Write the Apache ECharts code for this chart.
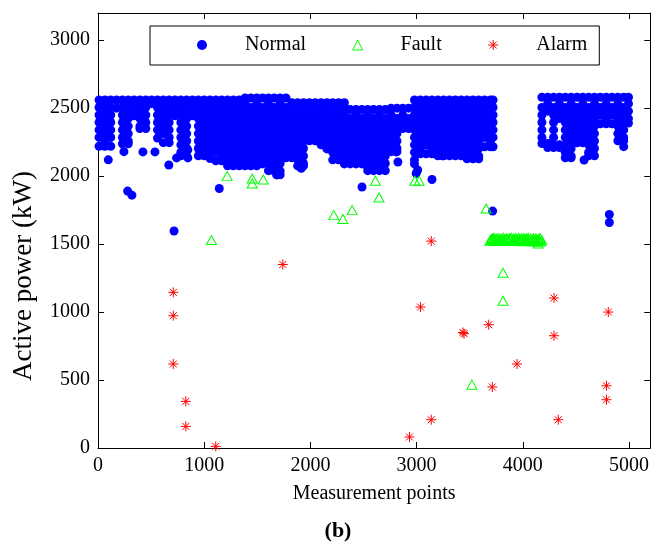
<!DOCTYPE html>
<html>
<head>
<meta charset="utf-8">
<title>Active power vs measurement points</title>
<script src="https://cdn.jsdelivr.net/npm/echarts/dist/echarts.min.js"></script>
<style>
  html, body { margin: 0; padding: 0; background: #fff; }
  #chart { width: 652px; height: 543px; }
</style>
</head>
<body>
<div id="chart"></div>
<script>
// Normal operation: the dense band of readings, listed column by column as [x, y, y, ...]
const normalColumns = [
  [10, 2560,2505,2450,2395,2340,2285,2220],
  [65, 2560,2533,2478,2423,2368,2313,2258,2220],
  [120, 2560,2505,2450,2395,2340,2285,2220],
  [175, 2560,2500],
  [230, 2560,2505,2450,2395,2340,2285,2238],
  [285, 2560,2533,2478,2423,2368,2313,2258,2238],
  [340, 2560,2505,2444],
  [395, 2560,2533,2478,2423,2368,2350],
  [450, 2560,2505,2450,2395,2350],
  [505, 2560,2533],
  [560, 2560,2505,2450,2395,2340,2280],
  [615, 2560,2533,2478,2423,2368,2313,2246],
  [670, 2560,2505,2450,2395,2340,2285,2246],
  [725, 2560,2533,2478,2444],
  [780, 2560,2505,2450,2395,2340,2285,2230,2175,2150],
  [835, 2560,2533,2478,2423,2368,2313,2258,2203,2150],
  [890, 2560,2505,2444],
  [945, 2560,2533,2478,2423,2368,2313,2258,2203,2150],
  [1000, 2560,2505,2450,2395,2340,2285,2230,2175,2150],
  [1055, 2560,2533,2478,2423,2368,2313,2258,2203,2148,2130],
  [1110, 2560,2505,2450,2395,2340,2285,2230,2175,2113],
  [1165, 2560,2533,2478,2423,2368,2313,2258,2203,2148,2113],
  [1220, 2560,2505,2450,2395,2340,2285,2230,2175,2120,2076],
  [1275, 2560,2533,2478,2423,2368,2313,2258,2203,2148,2093,2076],
  [1330, 2560,2505,2450,2395,2340,2285,2230,2175,2120,2076],
  [1385, 2575,2533,2478,2423,2368,2313,2258,2203,2148,2093,2076],
  [1440, 2575,2505,2450,2395,2340,2285,2230,2175,2120,2076],
  [1495, 2575,2533,2478,2423,2368,2313,2258,2203,2148,2093,2076],
  [1550, 2575,2505,2450,2395,2340,2285,2230,2175,2120,2090],
  [1605, 2575,2533,2478,2423,2368,2313,2258,2203,2148,2093,2040],
  [1660, 2575,2505,2450,2395,2340,2285,2230,2175,2120,2065,2040],
  [1715, 2575,2533,2478,2423,2368,2313,2258,2203,2148,2093,2038,2010],
  [1770, 2575,2505,2450,2395,2340,2285,2230,2175,2135],
  [1825, 2540,2478,2423,2368,2313,2258,2203,2148,2135],
  [1880, 2540,2505,2450,2395,2340,2285,2230,2175,2120,2075],
  [1935, 2540,2478,2423,2368,2313,2258,2203,2148,2093,2075],
  [1990, 2540,2505,2450,2395,2340,2285,2260],
  [2045, 2540,2478,2423,2368,2313,2260],
  [2100, 2540,2505,2450,2395,2340,2285,2230],
  [2155, 2540,2478,2423,2368,2313,2258,2200],
  [2210, 2540,2505,2450,2395,2340,2285,2230,2175,2120],
  [2265, 2540,2478,2423,2368,2313,2258,2203,2148,2120],
  [2320, 2540,2505,2450,2395,2340,2285,2230,2175,2120,2090],
  [2375, 2490,2423,2368,2313,2258,2203,2148,2090],
  [2430, 2490,2450,2395,2340,2285,2230,2175,2120,2090],
  [2485, 2490,2423,2368,2313,2258,2203,2148,2090],
  [2540, 2490,2450,2395,2340,2285,2230,2175,2120,2065,2040],
  [2595, 2490,2423,2368,2313,2258,2203,2148,2093,2040],
  [2650, 2490,2450,2395,2340,2285,2230,2175,2120,2065,2040],
  [2705, 2490,2423,2368,2313,2258,2203,2148,2093,2040],
  [2760, 2500,2450,2395,2340,2285,2230,2180],
  [2815, 2500,2423,2368,2313,2258,2203,2180],
  [2870, 2500,2450,2395,2350],
  [2925, 2500,2423,2368,2350],
  [2980, 2560,2505,2450,2395,2340,2285,2230,2175,2120,2090],
  [3035, 2560,2533,2478,2423,2368,2313,2258,2203,2165],
  [3090, 2560,2505,2450,2395,2340,2285,2230,2165],
  [3145, 2560,2533,2478,2423,2368,2313,2258,2203,2165],
  [3200, 2560,2505,2450,2395,2340,2285,2230,2175,2150],
  [3255, 2560,2533,2478,2423,2368,2313,2258,2203,2150],
  [3310, 2560,2505,2450,2395,2340,2285,2230,2175,2150],
  [3365, 2560,2533,2478,2423,2368,2313,2258,2203,2150],
  [3420, 2560,2505,2450,2395,2340,2285,2230,2175,2150],
  [3475, 2560,2533,2478,2423,2368,2313,2258,2203,2148,2128],
  [3530, 2560,2505,2450,2395,2340,2285,2230,2175,2128],
  [3585, 2560,2533,2478,2423,2368,2313,2258,2203,2148,2128],
  [3640, 2560,2505,2450,2395,2340,2285,2216],
  [3695, 2560,2533,2478,2423,2368,2313,2258,2216],
  [3720, 2560,2505,2450,2395,2340,2285,2216],
  [4180, 2580,2505,2450,2395,2340,2285,2240],
  [4235, 2580,2533,2478,2240,2210],
  [4290, 2580,2505,2450,2395,2340,2285,2230,2210],
  [4345, 2580,2533,2478,2423,2230,2210],
  [4400, 2580,2505,2450,2395,2340,2285,2230,2175,2135],
  [4455, 2580,2533,2478,2423,2368,2313,2258,2203,2148,2135],
  [4510, 2580,2505,2450,2395,2340,2285,2245],
  [4565, 2580,2533,2478,2423,2368,2313,2258,2245],
  [4620, 2580,2505,2450,2395,2340,2285,2230,2175,2150],
  [4675, 2580,2533,2478,2423,2368,2313,2258,2203,2150],
  [4730, 2580,2505,2450,2385],
  [4785, 2580,2533,2478,2423,2385],
  [4840, 2580,2505,2450,2385],
  [4895, 2580,2533,2478,2423,2368,2313,2260],
  [4950, 2580,2505,2450,2395,2340,2285,2260],
  [4995, 2580,2533,2478,2423,2390]
];

// Normal readings lying apart from the band
const normalExtraX = [97, 244, 279, 319, 423, 536, 667, 716, 740, 846, 846, 975, 1142, 1635, 1682, 1914, 2486, 2800, 2807, 2824, 2996, 3010, 3145, 3243, 3716, 4577, 4815, 4815, 4950];
const normalExtraY = [2120, 2180, 1890, 1860, 2178, 2178, 2082, 1596, 2134, 2193, 2134, 2180, 1909, 2045, 2009, 2058, 1920, 2245, 2178, 2104, 2020, 2045, 1975, 2149, 1743, 2119, 1718, 1659, 2217];

// Fault readings scattered over the run
const faultX = [1068, 1216, 1452, 1452, 1556, 2220, 2306, 2393, 2612, 2646, 2983, 3024, 3521, 3655, 3814, 3814, 4145];
const faultY = [1530, 2000, 1983, 1946, 1975, 1713, 1684, 1750, 1966, 1843, 1966, 1966, 466, 1762, 1289, 1083, 1505];

// Fault readings packed into the long run near 1530 kW
const faultRunX = [3690, 3698, 3706, 3714, 3722, 3730, 3738, 3746, 3754, 3762, 3770, 3778, 3786, 3794, 3802, 3810,
  3818, 3826, 3834, 3842, 3850, 3858, 3866, 3874, 3882, 3890, 3898, 3906, 3914, 3922, 3930, 3938,
  3946, 3954, 3962, 3970, 3978, 3986, 3994, 4002, 4010, 4018, 4026, 4034, 4042, 4050, 4058, 4066,
  4074, 4082, 4090, 4098, 4106, 4114, 4122, 4130, 4138, 4146, 4154, 4162, 4170, 4178];
const faultRunY = [1524, 1531, 1538, 1543, 1527, 1546, 1535, 1522, 1540, 1529, 1545, 1533, 1525, 1541, 1537, 1528,
  1547, 1532, 1523, 1539, 1544, 1530, 1526, 1542, 1536, 1547, 1522, 1534, 1540, 1527, 1545, 1531,
  1538, 1524, 1546, 1533, 1529, 1543, 1521, 1537, 1545, 1528, 1535, 1541, 1523, 1547, 1532, 1526,
  1540, 1520, 1536, 1544, 1529, 1519, 1542, 1533, 1521, 1538, 1527, 1545, 1518, 1530];

// Alarm readings
const alarmX = [709, 709, 709, 827, 827, 1109, 1740, 2933, 3037, 3138, 3138, 3437, 3447, 3679, 3713, 3945, 4294, 4294, 4334, 4788, 4788, 4805];
const alarmY = [1145, 973, 618, 343, 159, 12, 1350, 81, 1037, 1522, 208, 850, 841, 907, 449, 618, 1103, 826, 208, 458, 355, 1000];

// Axis ranges and tick spacing
const xRange = [0, 5200];
const yRange = [0, 3200];
const xStep = 1000;
const yStep = 500;

const serif = '"Liberation Serif", "Times New Roman", serif';
const starPath = 'path://M5 0L5 10M0 5L10 5M1.5 1.5L8.5 8.5M8.5 1.5L1.5 8.5';

const normalData = [];
normalColumns.forEach(col => {
  for (let i = 1; i < col.length; i++) normalData.push([col[0], col[i]]);
});
normalExtraX.forEach((x, i) => normalData.push([x, normalExtraY[i]]));
const faultData = faultX.map((x, i) => [x, faultY[i]])
  .concat(faultRunX.map((x, i) => [x, faultRunY[i]]));
const alarmData = alarmX.map((x, i) => [x, alarmY[i]]);

const plainNumber = v => String(v);

const frameAxis = {
  type: 'value',
  axisLine: { show: true, onZero: false, lineStyle: { color: '#000', width: 1 } },
  axisTick: { show: true, inside: true, length: 6, lineStyle: { color: '#000', width: 1 } },
  splitLine: { show: false }
};

const chart = echarts.init(document.getElementById('chart'), null, { renderer: 'canvas' });
chart.setOption({
  animation: false,
  backgroundColor: '#fff',
  grid: { left: 98, right: 1, top: 13, bottom: 95, containLabel: false },
  legend: {
    left: 150, top: 26,
    padding: [9, 12, 10, 47],
    itemWidth: 10, itemHeight: 10, itemGap: 44,
    borderColor: '#000', borderWidth: 1, borderRadius: 0,
    backgroundColor: '#fff',
    textStyle: { fontFamily: serif, fontSize: 20, color: '#000', padding: [0, 0, 0, 33] },
    data: [
      { name: 'Normal', icon: 'circle', itemStyle: { color: '#0000ff', borderWidth: 0, opacity: 1 } },
      { name: 'Fault', icon: 'triangle', itemStyle: { color: 'none', borderColor: '#00ff00', borderWidth: 1, opacity: 1 } },
      { name: 'Alarm', icon: starPath, itemStyle: { color: 'none', borderColor: '#ff0000', borderWidth: 1, opacity: 1 } }
    ]
  },
  xAxis: [
    Object.assign({}, frameAxis, {
      position: 'bottom', min: xRange[0], max: xRange[1], interval: xStep,
      name: 'Measurement points', nameLocation: 'middle', nameGap: 36,
      nameTextStyle: { fontFamily: serif, fontSize: 20, color: '#000' },
      axisLabel: { show: true, margin: 8, showMaxLabel: false, formatter: plainNumber,
                   fontFamily: serif, fontSize: 20, color: '#000' }
    }),
    Object.assign({}, frameAxis, {
      position: 'top', min: xRange[0], max: xRange[1], interval: xStep,
      axisLabel: { show: false }
    })
  ],
  yAxis: [
    Object.assign({}, frameAxis, {
      position: 'left', min: yRange[0], max: yRange[1], interval: yStep,
      axisLabel: { show: true, margin: 8, showMaxLabel: false, formatter: plainNumber,
                   fontFamily: serif, fontSize: 20, color: '#000' }
    }),
    Object.assign({}, frameAxis, {
      position: 'right', min: yRange[0], max: yRange[1], interval: yStep,
      axisLabel: { show: false }
    })
  ],
  graphic: [
    {
      type: 'text', x: 24, y: 276, rotation: Math.PI / 2,
      style: { text: 'Active power (kW)', font: '27px ' + serif, fill: '#000',
               textAlign: 'center', textVerticalAlign: 'middle', align: 'center', verticalAlign: 'middle' }
    },
    {
      type: 'text', x: 338, y: 531,
      style: { text: '(b)', font: 'bold 22px ' + serif, fill: '#000',
               textAlign: 'center', textVerticalAlign: 'middle', align: 'center', verticalAlign: 'middle' }
    }
  ],
  series: [
    {
      name: 'Normal', type: 'scatter', data: normalData,
      symbol: 'circle', symbolSize: 9,
      itemStyle: { color: '#0000ff', opacity: 1 },
      emphasis: { disabled: true }, z: 2
    },
    {
      name: 'Fault', type: 'scatter', data: faultData,
      symbol: 'triangle', symbolSize: [10, 9],
      itemStyle: { color: 'none', borderColor: '#00ff00', borderWidth: 1, opacity: 1 },
      emphasis: { disabled: true }, z: 3
    },
    {
      name: 'Alarm', type: 'scatter', data: alarmData,
      symbol: starPath, symbolSize: 10,
      itemStyle: { color: 'none', borderColor: '#ff0000', borderWidth: 1, opacity: 1 },
      emphasis: { disabled: true }, z: 4
    }
  ]
});
</script>
</body>
</html>
